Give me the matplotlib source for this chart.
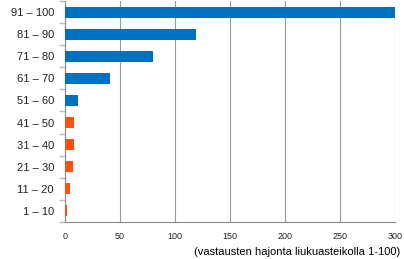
import matplotlib.pyplot as plt
import numpy as np

categories = ["1 – 10", "11 – 20", "21 – 30", "31 – 40", "41 – 50",
              "51 – 60", "61 – 70", "71 – 80", "81 – 90", "91 – 100"]
values = [2, 4.5, 7, 8, 8, 12, 41, 80, 119, 310]
colors = ["#FF5010"] * 5 + ["#0070C0"] * 5

plt.rcParams['font.family'] = ['Liberation Sans', 'DejaVu Sans']

fig = plt.figure(figsize=(4.04, 2.59), dpi=100)
ax = fig.add_axes([0.161, 0.143, 0.817, 0.853])

y = np.arange(len(categories))
ax.barh(y, values, height=0.5, color=colors, zorder=3)

ax.set_xlim(0, 300)
ax.set_ylim(-0.5, len(categories) - 0.5)
ax.set_xticks(range(0, 301, 50))
ax.set_yticks(y)
ax.set_yticklabels(categories, fontsize=8, color="#222222")
ax.set_yticks(np.arange(-0.5, len(categories), 1), minor=True)
ax.tick_params(axis='y', which='major', length=0, pad=8)
ax.tick_params(axis='y', which='minor', length=4, color="#bbbbbb", width=1)
ax.tick_params(axis='x', length=0, labelsize=6.5, pad=7, colors="#222222")

ax.grid(axis='x', color="#999999", linewidth=0.8, zorder=0)
for s in ['top', 'right']:
    ax.spines[s].set_visible(False)
ax.spines['left'].set_color("#888888")
ax.spines['bottom'].set_color("#888888")

fig.text(0.99, 0.008, "(vastausten hajonta liukuasteikolla 1-100)",
         ha='right', va='bottom', fontsize=8)

fig.savefig("out.png", dpi=100)
